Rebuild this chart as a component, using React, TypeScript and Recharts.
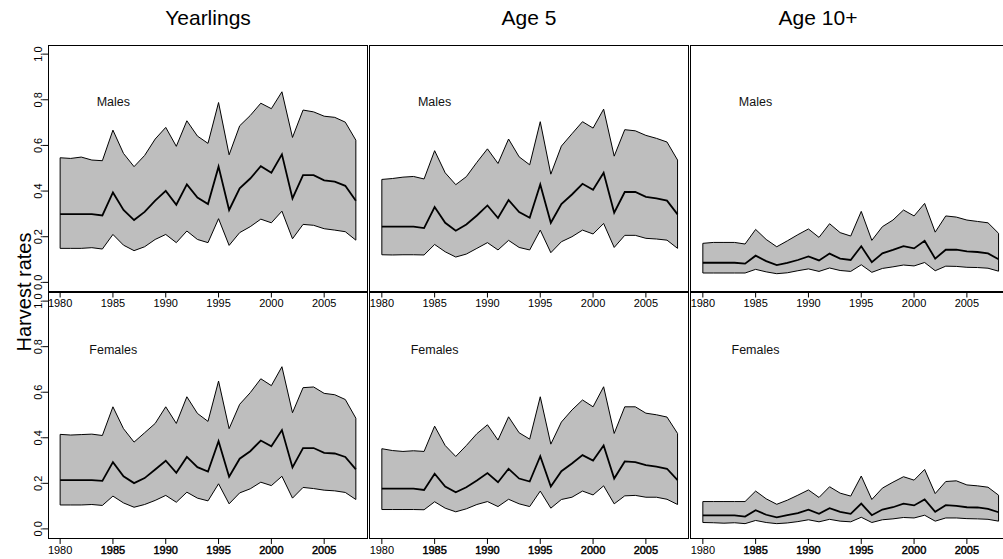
import React from 'react';
import { ComposedChart, Area, Line, XAxis, YAxis, ReferenceLine } from 'recharts';

const years = [1980, 1981, 1982, 1983, 1984, 1985, 1986, 1987, 1988, 1989, 1990, 1991, 1992, 1993, 1994, 1995, 1996, 1997, 1998, 1999, 2000, 2001, 2002, 2003, 2004, 2005, 2006, 2007, 2008];
const yearTicks = [1980, 1985, 1990, 1995, 2000, 2005];
const rateTicks = [0, 0.2, 0.4, 0.6, 0.8, 1.0];
const ageTitles = ['Yearlings', 'Age 5', 'Age 10+'];
const sexLabels = ['Males', 'Females'];
const axisTitle = 'Harvest rates';

// Yearlings, males
const ylgMaleHigh = [0.546, 0.543, 0.549, 0.536, 0.533, 0.667, 0.565, 0.507, 0.556, 0.628, 0.679, 0.596, 0.708, 0.641, 0.609, 0.788, 0.559, 0.686, 0.731, 0.785, 0.761, 0.835, 0.635, 0.755, 0.747, 0.728, 0.723, 0.702, 0.623];
const ylgMaleMid = [0.299, 0.299, 0.299, 0.299, 0.293, 0.394, 0.317, 0.273, 0.309, 0.358, 0.401, 0.340, 0.429, 0.372, 0.343, 0.507, 0.317, 0.412, 0.455, 0.509, 0.480, 0.561, 0.368, 0.470, 0.470, 0.447, 0.441, 0.423, 0.358];
const ylgMaleLow = [0.149, 0.149, 0.149, 0.152, 0.146, 0.210, 0.163, 0.139, 0.156, 0.188, 0.210, 0.174, 0.225, 0.188, 0.174, 0.279, 0.162, 0.218, 0.244, 0.277, 0.261, 0.312, 0.191, 0.254, 0.250, 0.235, 0.229, 0.222, 0.185];

// Age 5, males
const a5MaleHigh = [0.451, 0.455, 0.461, 0.464, 0.453, 0.577, 0.480, 0.428, 0.463, 0.526, 0.585, 0.521, 0.628, 0.550, 0.515, 0.704, 0.474, 0.597, 0.651, 0.704, 0.676, 0.759, 0.553, 0.669, 0.664, 0.644, 0.631, 0.615, 0.536];
const a5MaleMid = [0.244, 0.244, 0.244, 0.244, 0.238, 0.330, 0.261, 0.226, 0.254, 0.293, 0.337, 0.282, 0.361, 0.308, 0.283, 0.429, 0.261, 0.343, 0.385, 0.432, 0.406, 0.480, 0.305, 0.396, 0.396, 0.375, 0.368, 0.358, 0.298];
const a5MaleLow = [0.121, 0.120, 0.121, 0.121, 0.120, 0.166, 0.134, 0.111, 0.124, 0.149, 0.174, 0.142, 0.184, 0.153, 0.142, 0.229, 0.130, 0.178, 0.200, 0.229, 0.212, 0.258, 0.153, 0.206, 0.206, 0.193, 0.190, 0.185, 0.149];

// Age 10+, males
const a10MaleHigh = [0.171, 0.175, 0.175, 0.175, 0.168, 0.232, 0.188, 0.156, 0.182, 0.209, 0.234, 0.197, 0.257, 0.218, 0.203, 0.311, 0.184, 0.244, 0.273, 0.317, 0.291, 0.346, 0.220, 0.291, 0.286, 0.273, 0.267, 0.261, 0.215];
const a10MaleMid = [0.086, 0.086, 0.086, 0.086, 0.082, 0.117, 0.093, 0.076, 0.085, 0.098, 0.114, 0.096, 0.126, 0.104, 0.098, 0.158, 0.088, 0.127, 0.142, 0.159, 0.149, 0.182, 0.104, 0.143, 0.143, 0.136, 0.133, 0.127, 0.101];
const a10MaleLow = [0.041, 0.041, 0.041, 0.041, 0.041, 0.057, 0.046, 0.038, 0.042, 0.051, 0.059, 0.048, 0.063, 0.052, 0.048, 0.077, 0.044, 0.061, 0.068, 0.076, 0.072, 0.087, 0.051, 0.071, 0.070, 0.066, 0.065, 0.062, 0.049];

// Yearlings, females
const ylgFemHigh = [0.415, 0.412, 0.414, 0.416, 0.410, 0.536, 0.440, 0.381, 0.422, 0.463, 0.536, 0.463, 0.580, 0.507, 0.472, 0.649, 0.440, 0.547, 0.598, 0.659, 0.629, 0.712, 0.510, 0.620, 0.623, 0.595, 0.589, 0.568, 0.486];
const ylgFemMid = [0.214, 0.214, 0.214, 0.214, 0.211, 0.293, 0.231, 0.201, 0.223, 0.261, 0.299, 0.246, 0.316, 0.271, 0.252, 0.385, 0.229, 0.308, 0.341, 0.388, 0.363, 0.434, 0.270, 0.355, 0.355, 0.334, 0.331, 0.316, 0.261];
const ylgFemLow = [0.105, 0.105, 0.105, 0.107, 0.103, 0.144, 0.114, 0.095, 0.107, 0.125, 0.147, 0.117, 0.161, 0.135, 0.123, 0.198, 0.110, 0.158, 0.176, 0.205, 0.190, 0.231, 0.135, 0.182, 0.177, 0.170, 0.167, 0.160, 0.129];

// Age 5, females
const a5FemHigh = [0.352, 0.344, 0.340, 0.343, 0.340, 0.451, 0.366, 0.318, 0.366, 0.418, 0.457, 0.390, 0.492, 0.422, 0.394, 0.580, 0.372, 0.469, 0.522, 0.566, 0.536, 0.624, 0.419, 0.536, 0.536, 0.508, 0.501, 0.491, 0.419];
const a5FemMid = [0.177, 0.177, 0.177, 0.177, 0.171, 0.242, 0.186, 0.161, 0.183, 0.212, 0.245, 0.205, 0.264, 0.221, 0.208, 0.319, 0.186, 0.253, 0.287, 0.324, 0.300, 0.366, 0.221, 0.296, 0.293, 0.280, 0.273, 0.264, 0.214];
const a5FemLow = [0.085, 0.085, 0.085, 0.085, 0.084, 0.119, 0.091, 0.075, 0.088, 0.107, 0.120, 0.098, 0.130, 0.110, 0.098, 0.166, 0.091, 0.129, 0.139, 0.166, 0.149, 0.189, 0.110, 0.145, 0.147, 0.139, 0.139, 0.130, 0.107];

// Age 10+, females
const a10FemHigh = [0.120, 0.120, 0.120, 0.120, 0.120, 0.166, 0.132, 0.108, 0.126, 0.148, 0.171, 0.138, 0.185, 0.157, 0.144, 0.232, 0.129, 0.179, 0.205, 0.229, 0.214, 0.261, 0.155, 0.208, 0.211, 0.193, 0.189, 0.183, 0.148];
const a10FemMid = [0.059, 0.059, 0.059, 0.059, 0.054, 0.082, 0.062, 0.051, 0.060, 0.069, 0.084, 0.066, 0.091, 0.075, 0.066, 0.111, 0.060, 0.085, 0.095, 0.111, 0.103, 0.129, 0.075, 0.104, 0.101, 0.095, 0.094, 0.088, 0.073];
const a10FemLow = [0.028, 0.027, 0.025, 0.027, 0.023, 0.037, 0.028, 0.023, 0.026, 0.032, 0.040, 0.031, 0.042, 0.034, 0.031, 0.051, 0.028, 0.040, 0.044, 0.050, 0.048, 0.060, 0.034, 0.048, 0.048, 0.045, 0.044, 0.042, 0.034];

const FONT = '"Liberation Sans", Arial, Helvetica, sans-serif';

// layout (pixels)
const COL_X = [48.3, 369.6, 690.5];
const COL_W = 319.4;
const ROW_Y = [45, 292.3];
const ROW_H = [246.5, 246];
const X_AXIS_H = 22;
const TITLE_CX = [208, 529, 818];

const panels = [
  { row: 0, col: 0, low: ylgMaleLow, mid: ylgMaleMid, high: ylgMaleHigh },
  { row: 0, col: 1, low: a5MaleLow, mid: a5MaleMid, high: a5MaleHigh },
  { row: 0, col: 2, low: a10MaleLow, mid: a10MaleMid, high: a10MaleHigh },
  { row: 1, col: 0, low: ylgFemLow, mid: ylgFemMid, high: ylgFemHigh },
  { row: 1, col: 1, low: a5FemLow, mid: a5FemMid, high: a5FemHigh },
  { row: 1, col: 2, low: a10FemLow, mid: a10FemMid, high: a10FemHigh },
];

const makeXTick = (heavy: boolean) => (props: any) => {
  const { x, y, payload } = props;
  const dark = heavy && payload.value !== yearTicks[0];
  return (
    <text
      x={x}
      y={y}
      dy={9.6}
      textAnchor="middle"
      fontSize={11}
      fill="#000"
      stroke={dark ? '#000' : 'none'}
      strokeWidth={dark ? 0.45 : 0}
      fontFamily={FONT}
    >
      {payload.value}
    </text>
  );
};

const YTick = (props: any) => {
  const { x, y, payload } = props;
  return (
    <text x={x} y={y} transform={`rotate(-90 ${x} ${y})`} textAnchor="middle" fontSize={11} fill="#000" fontFamily={FONT}>
      {Number(payload.value).toFixed(1)}
    </text>
  );
};

function Panel({ p }: { p: any }) {
  const showY = p.col === 0;
  const leftExtra = showY ? COL_X[0] : 0;
  const rows = years.map((yr, i) => ({ year: yr, band: [p.low[i], p.high[i]], mid: p.mid[i] }));
  const n = years.length - 1;
  const w = COL_W + leftExtra;
  const h = ROW_H[p.row] + X_AXIS_H;
  const XTick = makeXTick(p.row === 1);
  return (
    <div style={{ position: 'absolute', left: COL_X[p.col] - leftExtra, top: ROW_Y[p.row], width: w, height: h }}>
      <ComposedChart width={w} height={h} data={rows} margin={{ top: 0, right: 0, bottom: 0, left: 0 }}>
        <XAxis
          dataKey="year"
          type="number"
          domain={[1978.88, 2009.12]}
          ticks={yearTicks}
          interval={0}
          axisLine={false}
          tickLine={{ stroke: '#000', strokeWidth: 1 }}
          tickSize={6}
          tickMargin={0}
          height={X_AXIS_H}
          tick={<XTick />}
        />
        <YAxis
          type="number"
          domain={[-0.04, 1.04]}
          ticks={rateTicks}
          interval={0}
          hide={!showY}
          width={leftExtra || 1}
          axisLine={false}
          tickLine={{ stroke: '#000', strokeWidth: 1 }}
          tickSize={6}
          tickMargin={0}
          tick={<YTick />}
        />
        <Area
          type="linear"
          dataKey="band"
          stroke="#000"
          strokeWidth={1}
          fill="#bebebe"
          fillOpacity={1}
          dot={false}
          activeDot={false}
          isAnimationActive={false}
        />
        <ReferenceLine segment={[{ x: years[0], y: p.low[0] }, { x: years[0], y: p.high[0] }]} stroke="#000" strokeWidth={1} />
        <ReferenceLine segment={[{ x: years[n], y: p.low[n] }, { x: years[n], y: p.high[n] }]} stroke="#000" strokeWidth={1} />
        <Line type="linear" dataKey="mid" stroke="#000" strokeWidth={1.8} dot={false} activeDot={false} isAnimationActive={false} />
      </ComposedChart>
      <div
        style={{
          position: 'absolute',
          left: leftExtra - 0.5,
          top: -0.5,
          width: COL_W + 1,
          height: ROW_H[p.row] + 1,
          border: '1px solid #000',
          boxSizing: 'border-box',
          pointerEvents: 'none',
        }}
      />
    </div>
  );
}

export default function App() {
  return (
    <div style={{ position: 'absolute', left: 0, top: 0, width: 1003, height: 559, overflow: 'hidden', background: '#fff', fontFamily: FONT }}>
      {panels.map((p, i) => (
        <Panel key={i} p={p} />
      ))}
      {ageTitles.map((t, c) => (
        <div
          key={t}
          style={{ position: 'absolute', left: TITLE_CX[c] - 100, top: 6, width: 200, textAlign: 'center', fontSize: 21, lineHeight: '24px', color: '#000' }}
        >
          {t}
        </div>
      ))}
      {panels.map((p, i) => (
        <div
          key={'lab' + i}
          style={{
            position: 'absolute',
            left: COL_X[p.col] + 65 - 50,
            top: ROW_Y[p.row] + (p.row === 0 ? 57 : 58) - 8,
            width: 100,
            textAlign: 'center',
            fontSize: 12.5,
            lineHeight: '16px',
            color: '#111',
          }}
        >
          {sexLabels[p.row]}
        </div>
      ))}
      <div
        style={{
          position: 'absolute',
          left: 24 - 100,
          top: 292 - 12,
          width: 200,
          height: 24,
          lineHeight: '24px',
          textAlign: 'center',
          fontSize: 20,
          transform: 'rotate(-90deg)',
          color: '#000',
        }}
      >
        {axisTitle}
      </div>
    </div>
  );
}
